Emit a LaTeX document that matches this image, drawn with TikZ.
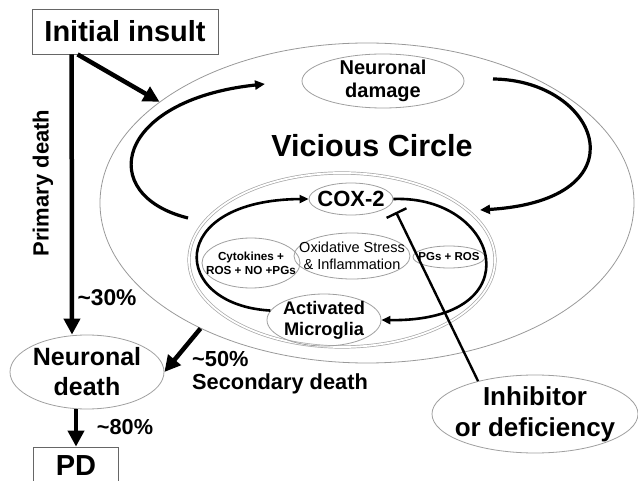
\documentclass[tikz,border=0pt]{standalone}
\usepackage{fontspec}
\setmainfont{Liberation Sans}
\usetikzlibrary{shapes.geometric,arrows.meta}

\tikzset{
  oval/.style={ellipse, draw=gray!75, line width=0.8pt, inner sep=-25pt, align=center},
  bigarrow/.style={line width=4.5pt, -{Triangle[length=16pt,width=16pt]}},
  looparrow/.style={line width=3.2pt, -{Triangle[length=10pt,width=9pt]}},
  cyclearrow/.style={line width=2.6pt, -{Triangle[length=9pt,width=8pt]}},
  boldtext/.style={font=\fontsize{#1}{\fpeval{1.2*#1}}\selectfont\bfseries, align=center}
}

\begin{document}
\begin{tikzpicture}[x=1pt,y=-1pt]
  \useasboundingbox (0,0) rectangle (638,481);

  \node[draw=gray!80!black, line width=0.8pt, minimum width=186pt, minimum height=45pt,
        inner sep=0pt, boldtext=29] (init) at (125,31.5) {Initial insult};
  \node[oval, draw=gray!80, minimum width=534pt, minimum height=320pt] (outer) at (367,203) {};
  \node[oval, minimum width=162pt, minimum height=54pt, boldtext=20] (dmg) at (383,81) {Neuronal\\[-1pt]damage};
  \node[boldtext=30.5] (vc) at (372,146) {Vicious Circle};

  \node[ellipse, draw=gray!70, double, double distance=1.8pt, line width=0.7pt,
        minimum width=306pt, minimum height=174pt] (inner) at (342,260) {};
  \node[oval, minimum width=84pt, minimum height=32pt, boldtext=22] (cox) at (351,199) {COX-2};
  \node[oval, minimum width=98pt, minimum height=50pt, boldtext=11.7] (cyto) at (251,263) {Cytokines +\\ROS + NO +PGs};
  \node[oval, minimum width=116pt, minimum height=46pt, font=\fontsize{14.5}{17}\selectfont] (oxi) at (352,256) {Oxidative Stress\\\& Inflammation};
  \node[oval, minimum width=72pt, minimum height=22pt, boldtext=11.5] (pgs) at (449,257) {PGs + ROS};
  \node[oval, minimum width=114pt, minimum height=52pt, boldtext=18.2] (micro) at (324,320) {Activated\\[-1pt]Microglia};

  \node[oval, minimum width=154pt, minimum height=74pt, boldtext=25] (nd) at (87,372) {Neuronal\\death};
  \node[draw=gray!80!black, line width=0.8pt, minimum width=85pt, minimum height=38pt,
        inner sep=0pt, boldtext=29] (pd) at (76,466) {PD};
  \node[oval, minimum width=206pt, minimum height=78pt, boldtext=26] (inh) at (535,414) {Inhibitor\\or deficiency};

  % labels
  \node[boldtext=22, rotate=90] (prim) at (43,183) {Primary death};
  \node[boldtext=22.8] (p30) at (107,298) {\textasciitilde30\%};
  \node[boldtext=21.8, align=left, anchor=west, inner sep=0pt] (p50) at (192,373) {\textasciitilde50\%\\[-3pt]Secondary death};
  \node[boldtext=21.7] (p80) at (125,427) {\textasciitilde80\%};

  % death arrows
  \draw[bigarrow] ([xshift=40pt]init.south west) -- ([xshift=-15pt]nd.north);
  \draw[bigarrow] ([xshift=46pt]init.south west) -- (outer.154);
  \draw[bigarrow] (outer.217) -- (nd.east);
  \draw[bigarrow] (nd.south -| pd.north) -- (pd.north);

  % vicious circle
  \coordinate (vlA) at (188,218);
  \coordinate (vlB) at (265,84);
  \coordinate (vrA) at (493,79);
  \coordinate (vrB) at (480,210);
  \draw[looparrow] (vlA) .. controls (95,195) and (115,100) .. (vlB);
  \draw[looparrow] (vrA) .. controls (600,80) and (645,200) .. (vrB);

  % inner cycle
  \draw[cyclearrow] (micro.170) .. controls (170,305) and (165,200) .. (cox.west);
  \draw[cyclearrow] (cox.east) .. controls (500,195) and (535,322) .. (micro.east);

  % inhibition
  \coordinate (coxT) at (396,212);
  \draw[line width=2.4pt, -{Bar[width=22pt]}] (inh.150) -- (coxT);
\end{tikzpicture}
\end{document}
